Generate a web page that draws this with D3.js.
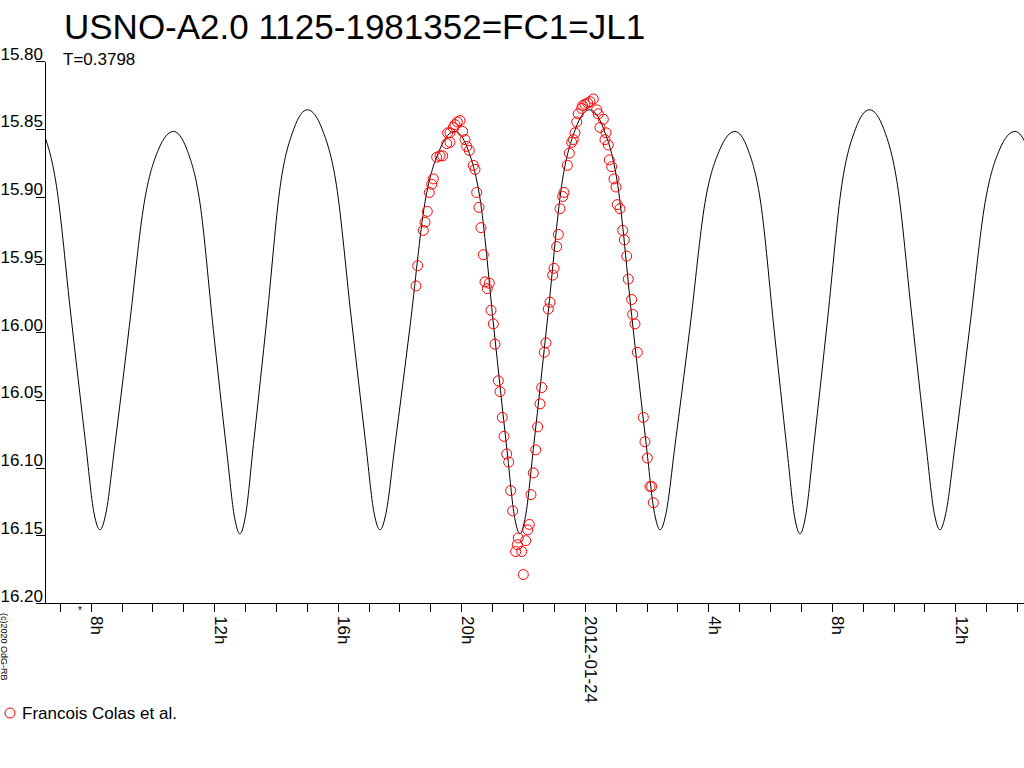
<!DOCTYPE html>
<html><head><meta charset="utf-8">
<script src="https://cdn.jsdelivr.net/npm/d3@7"></script>
<style>
html,body{margin:0;padding:0;background:#fff;}
svg{display:block;font-family:"Liberation Sans",Arial,sans-serif;}
</style></head><body>
<svg id="chart" width="1024" height="768"></svg>
<script>
const titleText = "USNO-A2.0 1125-1981352=FC1=JL1";
const subtitleText = "T=0.3798";
const legendLabel = "Francois Colas et al.";
const copyrightText = "(c)2020 OdG-RB";
const baseDateUTC = Date.UTC(2012, 0, 23);   // hours below are counted from 2012-01-23 0h UT
const xDomainHours = [6.52, 38.224];
const yDomainMag = [15.80, 16.20];
const yTickValues = [15.80, 15.85, 15.90, 15.95, 16.00, 16.05, 16.10, 16.15, 16.20];
const markerHour = 7.65;

// model light curve
const curveHours = [5.95,6.42,6.89,7.36,7.83,8.11,8.30,8.49,8.78,9.25,9.73,10.20,10.68,11.11,11.54,11.97,12.40,12.66,
 12.83,13.01,13.27,13.71,14.14,14.58,15.02,15.49,15.96,16.43,16.90,17.18,17.37,17.56,17.85,18.34,18.82,19.31,
 19.79,20.21,20.63,21.06,21.48,21.73,21.90,22.08,22.35,22.80,23.25,23.70,24.15,24.61,25.07,25.52,25.98,26.26,
 26.44,26.63,26.92,27.41,27.89,28.38,28.86,29.28,29.70,30.13,30.55,30.80,30.97,31.15,31.42,31.87,32.32,32.77,
 33.22,33.68,34.13,34.59,35.04,35.32,35.50,35.69,35.99,36.47,36.96,37.44,37.93,38.35,38.78,39.20,39.63,39.88,40.05];
const curveMags = [15.836,15.850,15.892,15.988,16.081,16.134,16.146,16.134,16.084,15.996,15.905,15.865,15.852,15.865,15.905,15.998,16.087,16.137,
 16.149,16.136,16.083,15.989,15.892,15.850,15.836,15.850,15.892,15.988,16.081,16.134,16.146,16.134,16.084,15.996,15.905,15.865,
 15.852,15.865,15.905,15.998,16.087,16.137,16.149,16.136,16.083,15.989,15.892,15.850,15.836,15.850,15.892,15.988,16.081,16.134,
 16.146,16.134,16.084,15.996,15.905,15.865,15.852,15.865,15.905,15.998,16.087,16.137,16.149,16.136,16.083,15.989,15.892,15.850,
 15.836,15.850,15.892,15.988,16.081,16.134,16.146,16.134,16.084,15.996,15.905,15.865,15.852,15.865,15.905,15.998,16.087,16.137,16.149];

// observations (Francois Colas et al.)
const obsHours = [18.534,18.589,18.771,18.826,18.900,18.965,19.043,19.095,19.205,19.312,19.399,19.529,19.561,19.635,19.635,19.742,19.797,19.872,19.959,
 20.046,20.121,20.176,20.260,20.390,20.445,20.500,20.574,20.639,20.714,20.769,20.843,20.908,
 20.963,21.038,21.093,21.200,21.255,21.329,21.384,21.472,21.536,21.601,21.666,21.763,21.815,21.847,21.957,22.009,22.087,22.151,22.203,
 22.258,22.333,22.411,22.475,22.550,22.605,22.689,22.744,22.819,22.874,22.961,23.003,23.091,23.143,23.197,23.285,23.327,23.434,23.499,
 23.576,23.628,23.683,23.738,23.790,23.900,23.932,24.007,24.094,24.169,24.276,
 24.386,24.438,24.493,24.600,24.655,24.687,24.762,24.794,24.872,24.946,25.011,25.053,25.140,25.228,25.280,25.357,25.409,25.519,25.552,
 25.626,25.701,25.895,25.950,26.025,26.112,26.167,26.219];
const obsMags = [15.966,15.951,15.925,15.919,15.911,15.897,15.891,15.887,15.871,15.870,15.870,15.861,15.853,15.853,15.860,15.849,15.847,15.845,15.844,
 15.852,15.858,15.863,15.866,15.877,15.880,15.897,15.908,15.923,15.943,15.963,15.968,15.964,
 15.984,15.994,16.009,16.036,16.044,16.063,16.077,16.090,16.096,16.117,16.132,16.162,16.157,16.152,16.162,16.179,16.154,16.146,16.142,
 16.120,16.104,16.087,16.070,16.053,16.041,16.015,16.008,15.983,15.978,15.958,15.953,15.937,15.928,15.909,15.900,15.897,15.877,15.868,
 15.860,15.858,15.853,15.845,15.839,15.835,15.833,15.832,15.831,15.830,15.828,
 15.836,15.839,15.849,15.843,15.858,15.853,15.862,15.873,15.878,15.887,15.893,15.906,15.909,15.925,15.932,15.944,15.961,15.976,15.987,
 15.994,16.015,16.063,16.081,16.093,16.114,16.114,16.126];

const toDate = h => new Date(baseDateUTC + h * 3600e3);
const svg = d3.select("#chart");
const plotLeft = 45, plotRight = 1024, plotTop = 61, plotBottom = 603;

const x = d3.scaleUtc().domain(xDomainHours.map(toDate)).range([plotLeft, plotRight]);
const y = d3.scaleLinear().domain(yDomainMag).range([plotTop, plotBottom]);

svg.append("rect").attr("width", 1024).attr("height", 768).attr("fill", "#fff");

svg.append("defs").append("clipPath").attr("id", "clip")
  .append("rect").attr("x", plotLeft).attr("y", 0).attr("width", plotRight - plotLeft).attr("height", plotBottom);

// curve
const curveData = curveHours.map((h, i) => [toDate(h), curveMags[i]]);
svg.append("path")
  .attr("clip-path", "url(#clip)")
  .attr("d", d3.line().x(d => x(d[0])).y(d => y(d[1])).curve(d3.curveMonotoneX)(curveData))
  .attr("fill", "none").attr("stroke", "#000").attr("stroke-width", 1);

// observations
svg.append("g").selectAll("circle")
  .data(obsHours.map((h, i) => [toDate(h), obsMags[i]]))
  .join("circle")
  .attr("cx", d => x(d[0])).attr("cy", d => y(d[1])).attr("r", 5)
  .attr("fill", "none").attr("stroke", "#ff0000").attr("stroke-width", 1);

// y axis
const yAxis = svg.append("g").attr("transform", `translate(${plotLeft},0)`)
  .call(d3.axisLeft(y).tickValues(yTickValues).tickSize(9).tickSizeOuter(0).tickFormat(d3.format(".2f")));
yAxis.attr("font-size", null).attr("font-family", null);
yAxis.selectAll("path,line").attr("stroke", "#000").attr("shape-rendering", "crispEdges");
yAxis.selectAll("text").attr("x", -2).attr("y", -2).attr("dy", 0)
  .attr("text-anchor", "end").attr("font-size", 17).attr("fill", "#000");

// x axis
const xAxis = svg.append("g").attr("transform", `translate(0,${plotBottom})`)
  .call(d3.axisBottom(x).ticks(d3.utcHour.every(1)).tickSize(9).tickSizeOuter(0)
    .tickFormat(d => {
      const h = d.getUTCHours();
      if (h % 4) return "";
      return h === 0 ? d3.utcFormat("%Y-%m-%d")(d) : h + "h";
    }));
xAxis.attr("font-size", null).attr("font-family", null);
xAxis.selectAll("path,line").attr("stroke", "#000").attr("shape-rendering", "crispEdges");
xAxis.selectAll("text").attr("x", 13).attr("y", 0).attr("dy", 0)
  .attr("text-anchor", "start").attr("transform", "rotate(90)")
  .attr("font-size", 17).attr("fill", "#000");

// small marker below the axis
svg.append("text").attr("x", x(toDate(markerHour))).attr("y", 614)
  .attr("text-anchor", "middle").attr("font-size", 10).text("*");

// titles
svg.append("text").attr("x", 64).attr("y", 39).attr("font-size", 35).attr("fill", "#000").text(titleText);
svg.append("text").attr("x", 63).attr("y", 65).attr("font-size", 17).attr("fill", "#000").text(subtitleText);

// copyright
svg.append("text").attr("transform", "translate(1,613) rotate(90)")
  .attr("font-size", 9).attr("fill", "#000").text(copyrightText);

// legend
const leg = svg.append("g");
leg.append("circle").attr("cx", 10).attr("cy", 713).attr("r", 5)
  .attr("fill", "none").attr("stroke", "#ff0000");
leg.append("text").attr("x", 22).attr("y", 718.5).attr("font-size", 17).attr("fill", "#000").text(legendLabel);
</script>
</body></html>
